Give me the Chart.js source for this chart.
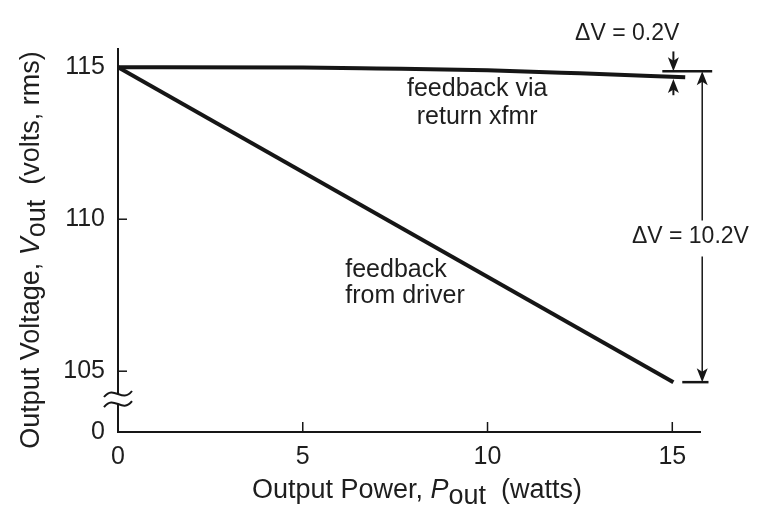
<!DOCTYPE html>
<html><head><meta charset="utf-8">
<script src="https://cdn.jsdelivr.net/npm/chart.js@4.4.1/dist/chart.umd.min.js"></script>
<style>html,body{margin:0;padding:0;background:#fff;}canvas{display:block;}</style>
</head><body>
<canvas id="c" width="759" height="514"></canvas>
<script>
// ---- data ----
const returnXfmrPower = [0, 5, 7, 10, 12.5, 15.35];
const returnXfmrVolts = [115, 114.99, 114.96, 114.9, 114.8, 114.67];
const driverPower = [0, 15.03];
const driverVolts = [115, 104.64];
const xTickValues = [0, 5, 10, 15];
const xTickLabels = ['0', '5', '10', '15'];
const yTickValues = [103, 105, 110, 115];
const yTickLabels = ['0', '105', '110', '115'];
const innerTickX = [5, 10, 15];
const innerTickY = [105, 110];
const breakVolts = [104.25, 103.92];
const refTopVolts = 114.87;
const refBottomVolts = 104.64;
const smallArrowPower = 15.03;
const smallArrowFrom = [115.52, 114.08];
const smallArrowTo = [114.87, 114.61];
const bigArrowPower = 15.81;
const refTopSpan = [14.73, 16.08];
const refBottomSpan = [15.27, 15.98];
const labelSmall = {text: 'ΔV = 0.2V', x: 13.78, y: 116.12};
const labelBig = {text: 'ΔV = 10.2V', x: 15.49, y: 109.43};
const labelVia = {lines: ['feedback via', 'return xfmr'], x: 9.72, y: [114.28, 113.36]};
const labelDriver = {lines: ['feedback', 'from driver'], x: 6.15, y: [108.31, 107.46]};

const ink = '#161616';
const textInk = '#1e1e1e';
const FONT = '"Liberation Sans", Arial, Helvetica, sans-serif';

function drawSegments(ctx, segs, size) {
  let w = 0;
  segs.forEach(s => { ctx.font = (s.italic ? 'italic ' : '') + size + 'px ' + FONT; s.w = ctx.measureText(s.t).width; w += s.w; });
  let x = -w / 2;
  segs.forEach(s => { ctx.font = (s.italic ? 'italic ' : '') + size + 'px ' + FONT; ctx.fillText(s.t, x, s.dy || 0); x += s.w; });
}

const overlay = {
  id: 'overlay',
  afterDraw(chart) {
    const {ctx, chartArea: a, scales: {x: xs, y: ys}} = chart;
    const X = v => xs.getPixelForValue(v), Y = v => ys.getPixelForValue(v);
    ctx.save();
    ctx.strokeStyle = ink; ctx.fillStyle = ink; ctx.lineCap = 'butt';
    // inward ticks
    ctx.lineWidth = 1.5;
    innerTickX.forEach(v => { ctx.beginPath(); ctx.moveTo(X(v), a.bottom); ctx.lineTo(X(v), a.bottom - 10); ctx.stroke(); });
    innerTickY.forEach(v => { ctx.beginPath(); ctx.moveTo(a.left, Y(v)); ctx.lineTo(a.left + 9, Y(v)); ctx.stroke(); });
    // axis break
    const b1 = Y(breakVolts[0]), b2 = Y(breakVolts[1]);
    ctx.fillStyle = '#fff'; ctx.fillRect(a.left - 3, b1, 6, b2 - b1);
    ctx.fillStyle = ink; ctx.lineWidth = 2;
    [b1, b2].forEach(yy => { ctx.beginPath(); ctx.moveTo(a.left - 14, yy + 3); ctx.bezierCurveTo(a.left - 4, yy - 10, a.left + 4, yy + 10, a.left + 14, yy - 3); ctx.stroke(); });
    // reference lines
    ctx.lineWidth = 2.5;
    ctx.beginPath(); ctx.moveTo(X(refTopSpan[0]), Y(refTopVolts)); ctx.lineTo(X(refTopSpan[1]), Y(refTopVolts)); ctx.stroke();
    ctx.beginPath(); ctx.moveTo(X(refBottomSpan[0]), Y(refBottomVolts)); ctx.lineTo(X(refBottomSpan[1]), Y(refBottomVolts)); ctx.stroke();
    function arrow(x, yFrom, yTo, lw) {
      const dir = Math.sign(yTo - yFrom), hl = 14, hw = 5.5;
      ctx.lineWidth = lw; ctx.beginPath(); ctx.moveTo(x, yFrom); ctx.lineTo(x, yTo - dir * hl * 0.7); ctx.stroke();
      ctx.beginPath(); ctx.moveTo(x, yTo); ctx.lineTo(x - hw, yTo - dir * hl); ctx.lineTo(x, yTo - dir * hl * 0.75); ctx.lineTo(x + hw, yTo - dir * hl); ctx.closePath(); ctx.fill();
    }
    arrow(X(smallArrowPower), Y(smallArrowFrom[0]), Y(smallArrowTo[0]), 2);
    arrow(X(smallArrowPower), Y(smallArrowFrom[1]), Y(smallArrowTo[1]), 2);
    const lblY = Y(labelBig.y);
    arrow(X(bigArrowPower), lblY - 16, Y(refTopVolts), 1.5);
    arrow(X(bigArrowPower), lblY + 20, Y(refBottomVolts), 1.5);
    // annotation texts
    ctx.fillStyle = textInk; ctx.textBaseline = 'middle';
    ctx.font = '23px ' + FONT; ctx.textAlign = 'center';
    ctx.fillText(labelSmall.text, X(labelSmall.x), Y(labelSmall.y));
    ctx.fillText(labelBig.text, X(labelBig.x), Y(labelBig.y));
    ctx.font = '25px ' + FONT;
    labelVia.lines.forEach((t, i) => ctx.fillText(t, X(labelVia.x), Y(labelVia.y[i])));
    ctx.textAlign = 'left';
    labelDriver.lines.forEach((t, i) => ctx.fillText(t, X(labelDriver.x), Y(labelDriver.y[i])));
    // axis titles
    ctx.textBaseline = 'alphabetic'; ctx.textAlign = 'left';
    ctx.save();
    ctx.translate((a.left + a.right) / 2 + 8, a.bottom + 66);
    drawSegments(ctx, [{t: 'Output Power, '}, {t: 'P', italic: true}, {t: 'out', dy: 6}, {t: '  (watts)'}], 27);
    ctx.restore();
    ctx.save();
    ctx.translate(39, 250);
    ctx.rotate(-Math.PI / 2);
    drawSegments(ctx, [{t: 'Output Voltage, '}, {t: 'V', italic: true}, {t: 'out', dy: 6}, {t: '  (volts, rms)'}], 27);
    ctx.restore();
    ctx.restore();
  }
};

new Chart(document.getElementById('c'), {
  type: 'line',
  data: {
    datasets: [
      {data: returnXfmrPower.map((p, i) => ({x: p, y: returnXfmrVolts[i]})), borderColor: ink, borderWidth: 4, pointRadius: 0, cubicInterpolationMode: 'monotone', fill: false},
      {data: driverPower.map((p, i) => ({x: p, y: driverVolts[i]})), borderColor: ink, borderWidth: 4, pointRadius: 0, fill: false}
    ]
  },
  options: {
    responsive: false, animation: false, devicePixelRatio: 1,
    layout: {padding: {top: 49, right: 59, left: 0, bottom: 0}},
    plugins: {legend: {display: false}, tooltip: {enabled: false}},
    scales: {
      x: {
        type: 'linear', min: 0, max: 15.75,
        afterBuildTicks: s => { s.ticks = xTickValues.map(v => ({value: v})); },
        afterFit: s => { s.height = 82; },
        grid: {display: false, drawTicks: false},
        border: {display: true, color: ink, width: 2},
        ticks: {autoSkip: false, maxRotation: 0, padding: 10, color: textInk, font: {family: FONT, size: 25},
          callback: (v) => xTickLabels[xTickValues.indexOf(v)]}
      },
      y: {
        type: 'linear', min: 103, max: 115.6,
        afterBuildTicks: s => { s.ticks = yTickValues.map(v => ({value: v})); },
        afterFit: s => { s.width = 118; },
        grid: {display: false, drawTicks: false},
        border: {display: true, color: ink, width: 2},
        ticks: {autoSkip: false, padding: 13, color: textInk, font: {family: FONT, size: 25},
          callback: (v) => yTickLabels[yTickValues.indexOf(v)]}
      }
    }
  },
  plugins: [overlay]
});
</script>
</body></html>
